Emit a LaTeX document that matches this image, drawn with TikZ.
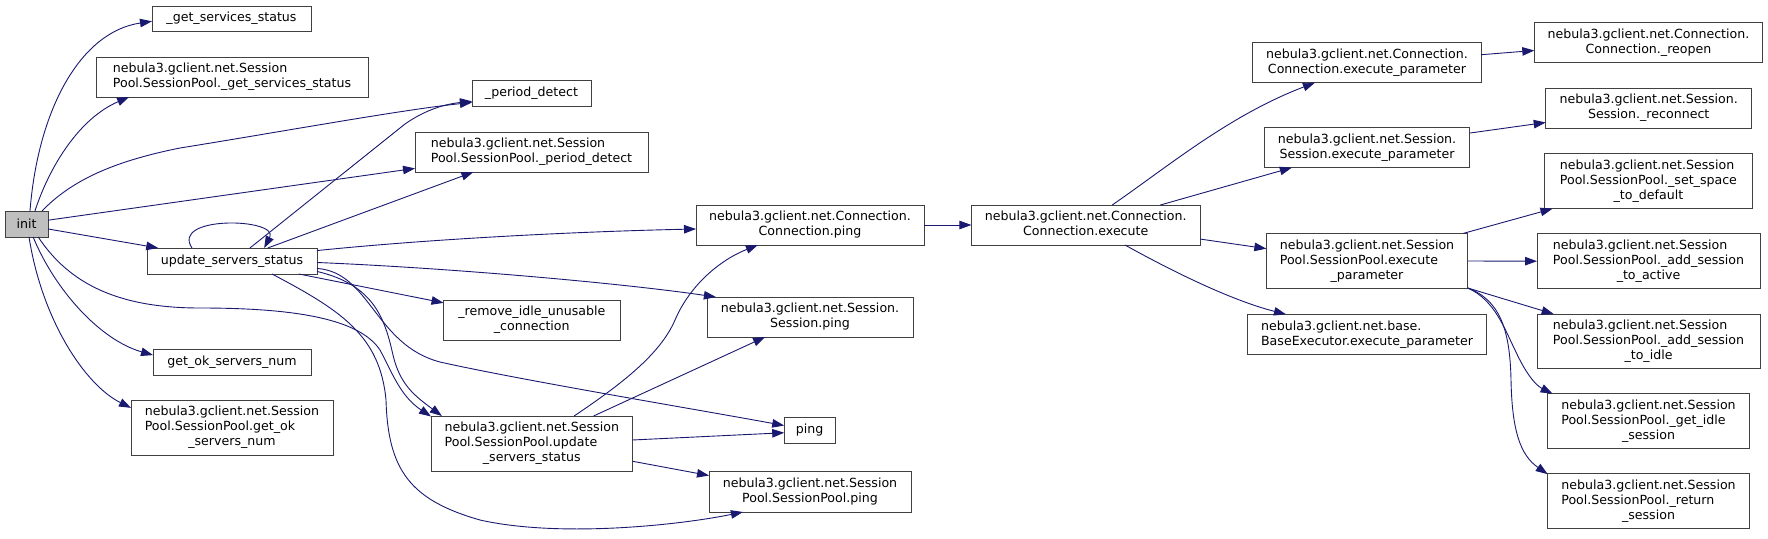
\documentclass[tikz,border=0pt]{standalone}
\usepackage{fontspec}
\setmainfont{DejaVu Sans}
\usetikzlibrary{arrows.meta}
\definecolor{edgec}{HTML}{191970}
\definecolor{boxc}{HTML}{404040}
\definecolor{rootfill}{HTML}{BFBFBF}
\newcommand{\LL}[1]{\multicolumn{1}{@{}l@{}}{#1}}
\newcommand{\twol}[2]{\begin{tabular}{@{}c@{}}\LL{#1}\\#2\end{tabular}}
\newcommand{\threel}[3]{\begin{tabular}{@{}c@{}}\LL{#1}\\\LL{#2}\\#3\end{tabular}}
\tikzset{
  box/.style={draw=boxc, line width=1pt, fill=white, inner sep=0pt, outer sep=0pt,
    font=\fontsize{12.6}{15}\selectfont, anchor=center},
  call/.style={draw=edgec, line width=0.9pt, -{Triangle[length=12pt,width=8.5pt]}},
}
\begin{document}
\begin{tikzpicture}[x=1pt,y=-1pt]
\useasboundingbox (0,0) rectangle (1768,538);
% rank 0
\node[box, fill=rootfill, minimum width=43pt, minimum height=26pt] (init) at (26.5,224) {init};
% rank 1
\node[box, minimum width=159pt, minimum height=25pt] (gss) at (231.5,18.5) {\_get\_services\_status};
\node[box, minimum width=272pt, minimum height=40pt] (spgss) at (232,77) {\twol{nebula3.gclient.net.Session}{Pool.SessionPool.\_get\_services\_status}};
\node[box, minimum width=170pt, minimum height=26pt] (usa) at (232,261) {update\_servers\_status};
\node[box, minimum width=158pt, minimum height=26pt] (gok) at (232,362) {get\_ok\_servers\_num};
\node[box, minimum width=202pt, minimum height=55pt] (spgok) at (232,427.5) {\threel{nebula3.gclient.net.Session}{Pool.SessionPool.get\_ok}{\_servers\_num}};
% rank 2
\node[box, minimum width=119pt, minimum height=26pt] (pd) at (531.5,93) {\_period\_detect};
\node[box, minimum width=233pt, minimum height=40pt] (sppd) at (531.5,152) {\twol{nebula3.gclient.net.Session}{Pool.SessionPool.\_period\_detect}};
\node[box, minimum width=176.5pt, minimum height=40pt] (rem) at (531.8,320) {\twol{\_remove\_idle\_unusable}{\_connection}};
\node[box, minimum width=201.5pt, minimum height=55pt] (spusa) at (531.8,443.5) {\threel{nebula3.gclient.net.Session}{Pool.SessionPool.update}{\_servers\_status}};
% rank 3
\node[box, minimum width=228pt, minimum height=40pt] (cping) at (810,225) {\twol{nebula3.gclient.net.Connection.}{Connection.ping}};
\node[box, minimum width=206pt, minimum height=40pt] (sping) at (810,317) {\twol{nebula3.gclient.net.Session.}{Session.ping}};
\node[box, minimum width=51pt, minimum height=25.5pt] (ping) at (809.7,430.5) {ping};
\node[box, minimum width=202pt, minimum height=41pt] (spping) at (810,491.5) {\twol{nebula3.gclient.net.Session}{Pool.SessionPool.ping}};
% rank 4
\node[box, minimum width=228.6pt, minimum height=40pt] (cexec) at (1085.7,225) {\twol{nebula3.gclient.net.Connection.}{Connection.execute}};
% rank 5
\node[box, minimum width=228.4pt, minimum height=40pt] (cexp) at (1367,62.7) {\twol{nebula3.gclient.net.Connection.}{Connection.execute\_parameter}};
\node[box, minimum width=205.7pt, minimum height=40.3pt] (sexp) at (1367,147.5) {\twol{nebula3.gclient.net.Session.}{Session.execute\_parameter}};
\node[box, minimum width=201.3pt, minimum height=55.3pt] (spexp) at (1367,261) {\threel{nebula3.gclient.net.Session}{Pool.SessionPool.execute}{\_parameter}};
\node[box, minimum width=239pt, minimum height=40.4pt] (bexp) at (1367,334.5) {\twol{nebula3.gclient.net.base.}{BaseExecutor.execute\_parameter}};
% rank 6
\node[box, minimum width=228.4pt, minimum height=39.6pt] (reopen) at (1648.5,42.5) {\twol{nebula3.gclient.net.Connection.}{Connection.\_reopen}};
\node[box, minimum width=206pt, minimum height=40pt] (reconn) at (1648.7,108) {\twol{nebula3.gclient.net.Session.}{Session.\_reconnect}};
\node[box, minimum width=208.8pt, minimum height=55pt] (setsp) at (1648.4,181.2) {\threel{nebula3.gclient.net.Session}{Pool.SessionPool.\_set\_space}{\_to\_default}};
\node[box, minimum width=223pt, minimum height=55pt] (addact) at (1648.5,261.2) {\threel{nebula3.gclient.net.Session}{Pool.SessionPool.\_add\_session}{\_to\_active}};
\node[box, minimum width=223pt, minimum height=54.4pt] (addidle) at (1648.5,341.2) {\threel{nebula3.gclient.net.Session}{Pool.SessionPool.\_add\_session}{\_to\_idle}};
\node[box, minimum width=201.6pt, minimum height=55pt] (getidle) at (1648.5,421.2) {\threel{nebula3.gclient.net.Session}{Pool.SessionPool.\_get\_idle}{\_session}};
\node[box, minimum width=201.6pt, minimum height=55pt] (retsess) at (1648.5,501.2) {\threel{nebula3.gclient.net.Session}{Pool.SessionPool.\_return}{\_session}};

% edges from init
\draw[call] (init.75) .. controls (38,110) and (80,32) .. (gss.182);
\draw[call] (init.57) .. controls (50,165) and (80,118) .. (spgss.191);
\draw[call] (init.40) .. controls (70,182) and (110,162) .. (180,148) .. controls (280,132) and (400,110) .. (pd.189);
\draw[call] (init.10) -- (sppd.188);
\draw[call] (init.347) -- (usa.170);
\draw[call] (init.-48) .. controls (70,285) and (120,308) .. (200,308) .. controls (300,308) and (360,320) .. (380,350) .. controls (392,372) and (400,396) .. (spusa.165);
\draw[call] (init.-63) .. controls (55,290) and (100,340) .. (gok.175);
\draw[call] (init.-79) .. controls (42,320) and (85,385) .. (spgok.169);

% edges from update_servers_status
\draw[call] (usa.162) .. controls (170,215) and (280,218) .. (usa.22);
\draw[call] (usa.36) -- (405,124) .. controls (425,110) and (445,104) .. (pd.188);
\draw[call] (usa.20) -- (sppd.199);
\draw[call] (usa.7) .. controls (420,240) and (560,232) .. (cping.182);
\draw[call] (usa.-1) .. controls (450,268) and (620,283) .. (sping.168);
\draw[call] (usa.-5) .. controls (370,272) and (375,345) .. (440,362) .. controls (520,380) and (700,410) .. (ping.169);
\draw[call] (usa.-7) .. controls (375,285) and (385,320) .. (393,355) .. controls (400,385) and (415,396) .. (spusa.163);
\draw[call] (usa.-11) -- (rem.169);
\draw[call] (usa.-18) .. controls (340,310) and (380,335) .. (386,400) .. controls (388,470) and (410,500) .. (480,520) .. controls (560,538) and (680,525) .. (spping.197);

% edges from SessionPool.update_servers_status
\draw[call] (spusa.33) .. controls (620,385) and (660,355) .. (675,320) .. controls (690,285) and (720,260) .. (cping.201);
\draw[call] (spusa.24) -- (sping.204);
\draw[call] (spusa.2) -- (ping.185);
\draw[call] (spusa.350) -- (spping.171);

% Connection.ping -> Connection.execute
\draw[call] (cping.east) -- (cexec.west);

% from Connection.execute
\draw[call] (cexec.37) .. controls (1170,165) and (1230,115) .. (cexp.201);
\draw[call] (cexec.15) -- (sexp.195);
\draw[call] (cexec.353) -- (spexp.173);
\draw[call] (cexec.333) .. controls (1170,270) and (1230,300) .. (bexp.166);

% rank 5 -> rank 6
\draw[call] (cexp.4) -- (reopen.184);
\draw[call] (sexp.8) -- (reconn.188);
\draw[call] (spexp.16) -- (setsp.196);
\draw[call] (spexp.0) -- (addact.180);
\draw[call] (spexp.345) -- (addidle.164);
\draw[call] (spexp.345) .. controls (1495,300) and (1505,330) .. (1515,350) .. controls (1525,372) and (1535,385) .. (getidle.164);
\draw[call] (spexp.345) .. controls (1500,300) and (1510,330) .. (1511,380) .. controls (1512,430) and (1520,455) .. (retsess.165);
\end{tikzpicture}
\end{document}
